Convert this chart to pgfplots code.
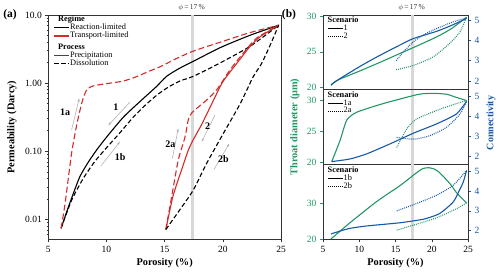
\documentclass[border=0pt]{standalone}
\usepackage{fontspec}
\setmainfont{Liberation Serif}
\usepackage{pgfplots}
\pgfplotsset{compat=1.18}
\usetikzlibrary{arrows.meta}
\definecolor{cgreen}{HTML}{239664}
\definecolor{cblue}{HTML}{1659A8}
\definecolor{cred}{HTML}{D42A2A}
\definecolor{cgl}{HTML}{D8D8D8}
\definecolor{cdg}{HTML}{444444}
\pgfplotsset{
  every axis/.append style={
    scale only axis,
    /pgf/number format/assume math mode=true,
    tick label style={font=\fontsize{9.5}{10}\selectfont},
    label style={font=\bfseries\fontsize{10.3}{11}\selectfont},
    tick align=outside,
    axis line style={black!80, line width=0.6pt},
    major tick length=3pt, minor tick length=1.8pt,
    every tick/.style={black!80, line width=0.5pt},
  },
  dat/.style={smooth, tension=0.4, line width=1.1pt, forget plot},
  blk dash/.style={dash pattern=on 4.5pt off 2.5pt},
  red dash/.style={dash pattern=on 6pt off 3pt},
  dott/.style={dash pattern=on 0.9pt off 1.1pt},
  leg/.style={legend style={draw=none, fill=none, font=\fontsize{8.3}{8.5}\selectfont,
      row sep=-0.3pt, inner sep=0.5pt, nodes={inner sep=0.4pt, text depth=1.8pt},
      legend cell align=left},
      legend image code/.code={\draw[##1] (0pt,0pt) -- (15pt,0pt);}},
  bpan/.style={anchor=south west, width=145pt, height=74.8pt, xmin=5, xmax=25},
  bleft/.style={bpan, xtick pos=bottom, ytick pos=left,
      y tick style={cgreen}, yticklabel style={cgreen}},
  bright/.style={bpan, axis y line*=right, axis x line=none, ytick={2,3,4,5},
      y tick style={cblue}, yticklabel style={cblue}},
}
\begin{document}
\begin{tikzpicture}
\path[use as bounding box] (0pt,0pt) rectangle (500pt,273pt);
% ---------------- panel (a)
\begin{axis}[at={(48.3pt,33.7pt)}, anchor=south west, width=232.7pt, height=224.3pt,
  xmin=5, xmax=25, ymode=log, ymin=0.0051, ymax=10,
  xtick={5,10,15,20,25}, ytick={0.01,0.1,1,10}, yticklabels={0.01,0.10,1.00,10.0},
  minor ytick={0.006,0.007,0.008,0.009,0.02,0.03,0.04,0.05,0.06,0.07,0.08,0.09,0.2,0.3,0.4,0.5,0.6,0.7,0.8,0.9,2,3,4,5,6,7,8,9},
  tick pos=left,
  xlabel={Porosity (\%)}, ylabel={Permeability (Darcy)},
  xlabel style={at={(axis description cs:0.5,-0.106)}, anchor=center},
  ylabel style={at={(axis description cs:-0.156,0.5)}, anchor=center},
  leg, legend style={at={(axis description cs:0.02,1.0)}, anchor=north west},
]
\addplot[cgl, line width=3pt, forget plot] coordinates {(17.4,0.0051) (17.4,10)};
\addlegendimage{empty legend}\addlegendentry{\hspace{-12pt}\textbf{Regime}}
\addlegendimage{black, line width=1.1pt}\addlegendentry{Reaction-limited}
\addlegendimage{cred, line width=1.1pt}\addlegendentry{Transport-limited}
\addlegendimage{empty legend}\addlegendentry{\hspace{-12pt}\rule{0pt}{9.4pt}\textbf{Process}}
\addlegendimage{cdg, line width=1.1pt}\addlegendentry{Precipitation}
\addlegendimage{black, line width=1.1pt, blk dash}\addlegendentry{Dissolution}
% curve 1
\addplot[dat, black] coordinates {(6.1,0.00741) (6.6,0.01318) (7.15,0.02399) (7.72,0.04266) (8.4,0.06761) (9.16,0.1047) (10.02,0.1622) (11.45,0.3162) (12.88,0.537) (14.3,0.8913) (15.17,1.259) (16.3,1.66) (17.46,2.089) (19.76,3.311) (22.3,5.012) (24.8,7.079)};
% curve 1b
\addplot[dat, black, blk dash] coordinates {(6.1,0.0074) (7.0,0.01905) (8.0,0.03981) (9.0,0.07079) (10.0,0.1122) (11.2,0.1905) (12.3,0.3162) (13.3,0.4677) (14.3,0.6607) (15.3,0.871) (16.3,1.072) (17.46,1.259) (19.47,1.862) (22.3,3.428) (24.8,7.08)};
% curve 1a
\addplot[dat, cred, red dash] coordinates {(6.1,0.0074) (6.44,0.01698) (7.0,0.0933) (7.4,0.2239) (7.72,0.3981) (8.0,0.6026) (8.3,0.7943) (8.7,0.8913) (9.16,0.9333) (10.3,1.0) (11.45,1.072) (12.5,1.23) (13.6,1.479) (14.6,1.738) (16.0,2.291) (17.46,2.951) (19.76,3.981) (22.3,5.495) (24.8,7.08)};
% curve 2
\addplot[dat, cred] coordinates {(15.1,0.00708) (15.7,0.02138) (16.4,0.05012) (17.0,0.1) (17.4,0.1413) (18.2,0.2512) (19.2,0.5623) (20.0,1.047) (21.2,1.95) (22.3,3.388) (23.2,4.786) (24.8,7.08)};
% curve 2a
\addplot[dat, cred, red dash] coordinates {(15.1,0.00708) (15.6,0.02138) (16.17,0.07413) (16.75,0.1622) (17.03,0.2884) (17.32,0.3631) (17.9,0.4467) (18.6,0.5623) (19.47,0.7943) (20.6,1.549) (21.76,2.754) (22.9,4.571) (24.8,7.08)};
% curve 2b
\addplot[dat, black, blk dash] coordinates {(15.1,0.00708) (16.3,0.0138) (17.46,0.02692) (18.6,0.06607) (20.04,0.182) (21.5,0.5012) (22.6,1.23) (23.3,1.9) (24.0,3.4) (24.8,7.08)};
% annotations
\tikzset{arr/.style={gray!60, line width=0.6pt, -{Stealth[length=3.5pt,width=2.5pt]}}}
\draw[arr] (axis cs:12.03,0.53) -- (axis cs:10.16,0.24);
\draw[arr] (axis cs:7.0,0.205) -- (axis cs:7.66,0.6);
\draw[arr] (axis cs:9.53,0.061) -- (axis cs:11.16,0.138);
\draw[arr] (axis cs:19.33,0.34) -- (axis cs:18.18,0.138);
\draw[arr] (axis cs:15.66,0.078) -- (axis cs:16.17,0.216);
\draw[arr] (axis cs:19.24,0.054) -- (axis cs:20.56,0.13);
\tikzset{cl/.style={font=\bfseries\fontsize{10}{10}\selectfont}}
\node[cl] at (axis cs:10.8,0.45) {1};
\node[cl] at (axis cs:6.44,0.38) {1a};
\node[cl] at (axis cs:11.17,0.083) {1b};
\node[cl] at (axis cs:18.7,0.23) {2};
\node[cl] at (axis cs:15.5,0.128) {2a};
\node[cl] at (axis cs:20.04,0.076) {2b};
\end{axis}
% ---------------- panel (b) top
\begin{axis}[bleft, at={(323pt,183.2pt)}, ymin=19.7, ymax=30.15, ytick={20,25,30}, xtick=\empty,
  leg, legend style={at={(axis description cs:0.025,0.99)}, anchor=north west}]
\addplot[cgl, line width=3pt, forget plot] coordinates {(17.4,19.7) (17.4,30.15)};
\addlegendimage{empty legend}\addlegendentry{\hspace{-16pt}\textbf{Scenario}}
\addlegendimage{black, line width=1pt}\addlegendentry{1}
\addlegendimage{black, line width=1pt, dott}\addlegendentry{2}
\addplot[dat, cgreen] coordinates {(6.1,20.3) (6.9,21.0) (10,22.3) (13,23.6) (15.6,24.77) (17.46,25.6) (20.7,27.1) (22.8,28.3) (24.8,29.85)};
\addplot[dat, cgreen, dott] coordinates {(15.1,22.5) (17.46,23.1) (20.2,24.3) (22.5,26.2) (23.9,27.8) (24.8,29.85)};
\end{axis}
\begin{axis}[bright, at={(323pt,183.2pt)}, ymin=1.57, ymax=5.25]
\addplot[dat, cblue] coordinates {(6.1,1.82) (7.34,2.12) (10,2.7) (12.5,3.2) (15.6,3.77) (17.46,4.09) (20.7,4.45) (22.8,4.75) (24.8,5.08)};
\addplot[dat, cblue, dott] coordinates {(15.1,3.0) (16,3.4) (17.46,3.93) (19,4.3) (20.7,4.59) (23.4,4.97) (24.8,5.08)};
\end{axis}
% ---------------- panel (b) middle
\begin{axis}[bleft, at={(323pt,108.4pt)}, ymin=19.63, ymax=31.73, ytick={20,25,30}, xtick=\empty,
  leg, legend style={at={(axis description cs:0.025,0.99)}, anchor=north west}]
\addplot[cgl, line width=3pt, forget plot] coordinates {(17.4,19.63) (17.4,31.73)};
\addlegendimage{empty legend}\addlegendentry{\hspace{-16pt}\textbf{Scenario}}
\addlegendimage{black, line width=1pt}\addlegendentry{1a}
\addlegendimage{black, line width=1pt, dott}\addlegendentry{2a}
\addplot[dat, cgreen] coordinates {(6.2,20.1) (7.34,23.5) (8.27,26.8) (9.65,28.1) (13.3,29.5) (17.46,30.8) (18.8,31.1) (20.5,31.15) (22.1,31.0) (23.4,30.5) (24.8,30.0)};
\addplot[dat, cgreen, dott] coordinates {(15.17,22.4) (16.55,25.4) (17.9,27.0) (20.7,28.4) (23.4,29.5) (24.8,30.0)};
\end{axis}
\begin{axis}[bright, at={(323pt,108.4pt)}, ymin=1.6, ymax=5.32]
\addplot[dat, cblue] coordinates {(6.2,1.75) (8.72,1.88) (11.0,2.13) (14.24,2.63) (17.46,3.16) (20.7,3.63) (23.4,4.12) (24.8,4.75)};
\addplot[dat, cblue, dott] coordinates {(15.17,2.96) (16.55,2.88) (17.9,2.88) (19.76,3.04) (22.06,3.46) (23.9,4.12) (24.8,4.75)};
\end{axis}
% ---------------- panel (b) bottom
\begin{axis}[bleft, at={(323pt,33.7pt)}, ymin=19.9, ymax=40.7, ytick={20,30}, xtick={5,10,15,20,25},
  xlabel={Porosity (\%)},
  xlabel style={at={(axis description cs:0.5,-0.317)}, anchor=center},
  leg, legend style={at={(axis description cs:0.025,0.99)}, anchor=north west}]
\addplot[cgl, line width=3pt, forget plot] coordinates {(17.4,19.9) (17.4,40.7)};
\addlegendimage{empty legend}\addlegendentry{\hspace{-16pt}\textbf{Scenario}}
\addlegendimage{black, line width=1pt}\addlegendentry{1b}
\addlegendimage{black, line width=1pt, dott}\addlegendentry{2b}
\addplot[dat, cgreen] coordinates {(6.1,20.0) (8.72,24.5) (12.4,30.4) (15.6,34.8) (17.9,38.4) (18.8,39.6) (19.6,39.8) (20.4,39.4) (21.1,38.4) (22.5,35.4) (23.4,32.9) (24.3,31.0) (24.8,30.0)};
\addplot[dat, cgreen, dott] coordinates {(15.17,22.45) (17.9,24.1) (20.7,25.9) (23.4,28.4) (24.8,30.0)};
\end{axis}
\begin{axis}[bright, at={(323pt,33.7pt)}, ymin=1.57, ymax=5.33]
\addplot[dat, cblue] coordinates {(6.1,1.84) (7.5,2.0) (8.72,2.12) (11.0,2.24) (15.6,2.4) (18.4,2.55) (19.3,2.62) (21.1,2.87) (22.97,3.45) (23.9,4.1) (24.35,4.45) (24.8,5.03)};
\addplot[dat, cblue, dott] coordinates {(15.17,3.0) (17.9,3.37) (20.7,3.79) (22.97,4.29) (24.8,5.03)};
\end{axis}
% ---------------- labels
\node[font=\bfseries\fontsize{11.5}{12}\selectfont] at (10pt,258pt) {(a)};
\node[font=\bfseries\fontsize{11.5}{12}\selectfont] at (289pt,258pt) {(b)};
\node[font=\fontsize{7.5}{8}\selectfont, black!80] at (191.7pt,265.7pt) {$\phi$\,=\,17\,\%};
\node[font=\fontsize{7.5}{8}\selectfont, black!80] at (411.7pt,265.7pt) {$\phi$\,=\,17\,\%};
\node[rotate=90, font=\bfseries\fontsize{10.3}{11}\selectfont, cgreen] at (295pt,146pt) {Throat diameter (μm)};
\node[rotate=90, font=\bfseries\fontsize{10}{11}\selectfont, cblue] at (491pt,150pt) {Connectivity};
\end{tikzpicture}
\end{document}
